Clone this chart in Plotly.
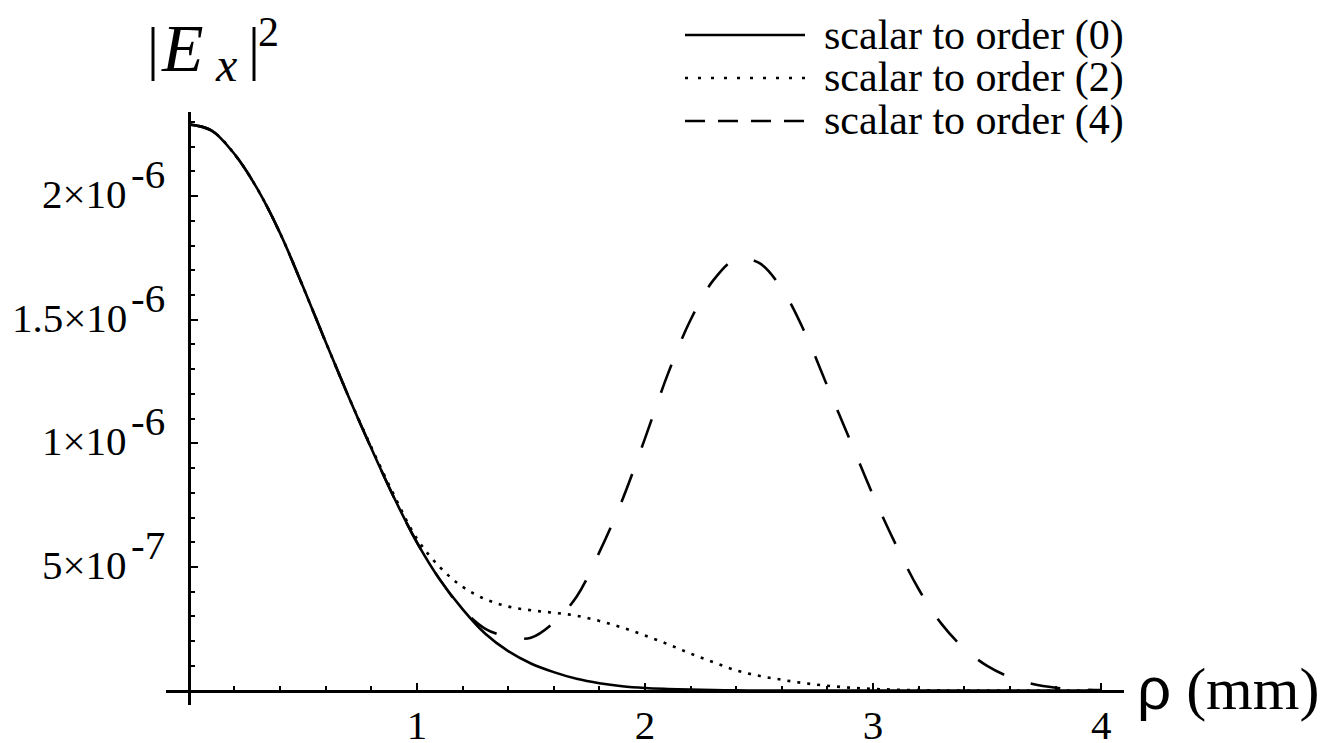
import plotly.graph_objects as go

# Radial coordinate rho (mm)
rho = [0.0, 0.1, 0.2, 0.3, 0.4, 0.5, 0.6, 0.7, 0.8, 0.9, 1.0, 1.1, 1.2, 1.3, 1.4,
       1.5, 1.6, 1.7, 1.8, 1.9, 2.0, 2.1, 2.2, 2.3, 2.4, 2.5, 2.6, 2.7, 2.8, 2.9,
       3.0, 3.1, 3.2, 3.3, 3.4, 3.5, 3.6, 3.7, 3.8, 3.9, 4.0]

# |E_x|^2 in units of 1e-6
order0 = [2.29, 2.265, 2.17, 2.03, 1.85, 1.635, 1.41, 1.19, 0.98, 0.78, 0.60, 0.45,
          0.33, 0.23, 0.16, 0.11, 0.075, 0.048, 0.030, 0.018, 0.011, 0.007, 0.004,
          0.002, 0.001, 0.0006, 0.0003, 0.0001, 0.0, 0.0, 0.0, 0.0, 0.0, 0.0, 0.0,
          0.0, 0.0, 0.0, 0.0, 0.0, 0.0]
order2 = [2.29, 2.265, 2.17, 2.03, 1.85, 1.635, 1.41, 1.19, 0.985, 0.79, 0.615, 0.50,
          0.42, 0.37, 0.34, 0.325, 0.315, 0.303, 0.282, 0.255, 0.223, 0.188, 0.150,
          0.115, 0.082, 0.060, 0.044, 0.030, 0.020, 0.012, 0.007, 0.004, 0.002,
          0.001, 0.0005, 0.0, 0.0, 0.0, 0.0, 0.0, 0.0]
order4 = [2.29, 2.265, 2.17, 2.03, 1.85, 1.635, 1.41, 1.19, 0.98, 0.78, 0.60, 0.45,
          0.33, 0.25, 0.218, 0.214, 0.275, 0.38, 0.56, 0.77, 1.02, 1.28, 1.50,
          1.66, 1.745, 1.73, 1.625, 1.45, 1.23, 1.01, 0.79, 0.59, 0.41, 0.27, 0.17,
          0.10, 0.055, 0.027, 0.012, 0.005, 0.002]

series_names = ["scalar to order (0)", "scalar to order (2)", "scalar to order (4)"]
curve_dash = ["solid", "3px,7px", "30px,28px"]
sample_dash = ["solid", "3px,10px", "20px,13px"]

x_major = [1, 2, 3, 4]
x_minor = [0.2, 0.4, 0.6, 0.8, 1.2, 1.4, 1.6, 1.8, 2.2, 2.4, 2.6, 2.8,
           3.2, 3.4, 3.6, 3.8, 4.0]
y_major = [5e-7, 1e-6, 1.5e-6, 2e-6]
y_mantissa = ["5×10", "1×10", "1.5×10", "2×10"]
y_exponent = ["-7", "-6", "-6", "-6"]
y_minor = [k * 1e-7 for k in range(1, 24)]

W, H = 1328, 743
ML, MR, MT, MB = 166, 204, 112, 38
X_RANGE = [-0.1, 4.1]
Y_RANGE = [-0.058e-6, 2.34e-6]
SERIF = "Liberation Serif"
BLACK = "black"


def px2x(px):
    return (px - ML) / (W - ML - MR)


def px2y(py):
    return (H - MB - py) / (H - MT - MB)


def text(x, y, s, size, xanchor="left", yref="paper", yshift=0, family=SERIF):
    fig.add_annotation(x=x, y=y, xref="paper", yref=yref, text=s, showarrow=False,
                       xanchor=xanchor, yanchor="middle", yshift=yshift,
                       borderpad=0, font=dict(family=family, size=size, color=BLACK))


fig = go.Figure()
for vals, name, dash in zip([order0, order2, order4], series_names, curve_dash):
    fig.add_trace(go.Scatter(
        x=rho, y=[v * 1e-6 for v in vals], mode="lines", name=name,
        line=dict(color=BLACK, width=2.6, dash=dash, shape="spline", smoothing=1.0),
        showlegend=False, hoverinfo="skip"))

# Legend: line samples with their labels
legend_rows = [35, 78, 121]
for row_y, name, dash in zip(legend_rows, series_names, sample_dash):
    fig.add_shape(type="line", xref="paper", yref="paper",
                  x0=px2x(685), x1=px2x(805), y0=px2y(row_y), y1=px2y(row_y),
                  line=dict(color=BLACK, width=2.4, dash=dash))
    text(px2x(823), px2y(row_y), name, 42)

# y tick labels: mantissa with a full-size raised exponent
for val, man, exp in zip(y_major, y_mantissa, y_exponent):
    text(px2x(128), val, man, 41, xanchor="right", yref="y", yshift=2)
    text(px2x(130), val, exp, 41, xanchor="left", yref="y", yshift=22)

# Vertical-axis title |E_x|^2
text(px2x(146), px2y(48), "|", 60)
text(px2x(160), px2y(48), "<i>E</i>", 68)
text(px2x(214), px2y(64), "<i>x</i>", 48)
text(px2x(247), px2y(48), "|", 60)
text(px2x(257), px2y(32), "2", 42)

# Horizontal-axis title
text(px2x(1136), px2y(688),
     "<span style='font-family:Liberation Sans'>ρ</span> (mm)", 60)

x_zero = (0 - X_RANGE[0]) / (X_RANGE[1] - X_RANGE[0])
y_zero = (0 - Y_RANGE[0]) / (Y_RANGE[1] - Y_RANGE[0])

fig.update_layout(
    width=W, height=H,
    margin=dict(l=ML, r=MR, t=MT, b=MB, pad=0, autoexpand=False),
    paper_bgcolor="white", plot_bgcolor="white",
    showlegend=False,
    xaxis=dict(range=X_RANGE, anchor="free", position=y_zero, automargin=False,
               showgrid=False, zeroline=False,
               showline=True, linecolor=BLACK, linewidth=2.5,
               tickmode="array", tickvals=x_major, ticktext=[str(v) for v in x_major],
               ticks="inside", ticklen=7, tickwidth=2, tickcolor=BLACK,
               minor=dict(tickmode="array", tickvals=x_minor, ticks="inside",
                          ticklen=4, tickwidth=2, tickcolor=BLACK),
               tickfont=dict(family=SERIF, size=41, color=BLACK),
               ticklabelstandoff=-3),
    yaxis=dict(range=Y_RANGE, anchor="free", position=x_zero, automargin=False,
               showgrid=False, zeroline=False,
               showline=True, linecolor=BLACK, linewidth=2.5,
               tickmode="array", tickvals=y_major, showticklabels=False,
               ticks="inside", ticklen=7, tickwidth=2, tickcolor=BLACK,
               minor=dict(tickmode="array", tickvals=y_minor, ticks="inside",
                          ticklen=4, tickwidth=2, tickcolor=BLACK)),
)

fig.write_html("out.html")
